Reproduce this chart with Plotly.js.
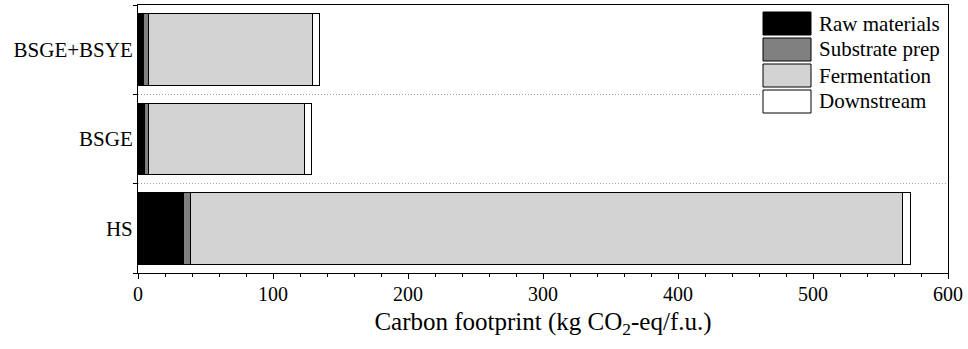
<!DOCTYPE html>
<html>
<head>
<meta charset="utf-8">
<script src="https://cdn.plot.ly/plotly-3.0.1.min.js"></script>
<style>
  html, body { margin: 0; padding: 0; background: #fff; }
  #chart { width: 968px; height: 349px; }
</style>
</head>
<body>
<div id="chart"></div>
<script>
// ---- Data ----
const categories = ['HS', 'BSGE', 'BSGE+BSYE'];
const stageNames = ['Raw materials', 'Substrate prep', 'Fermentation', 'Downstream'];
const rawMaterials = [33.8, 5.0, 4.4];
const substratePrep = [5.2, 2.5, 3.7];
const fermentation = [527.6, 115.5, 121.0];
const downstream = [5.5, 5.7, 5.4];
const xTickValues = [0, 100, 200, 300, 400, 500, 600];

// ---- Styles ----
const stageColors = ['#000000', '#808080', '#d3d3d3', '#ffffff'];
const FONT = 'Liberation Serif, "Times New Roman", Times, serif';
const series = [rawMaterials, substratePrep, fermentation, downstream];

const traces = series.map((vals, i) => ({
  type: 'bar',
  orientation: 'h',
  name: stageNames[i],
  y: categories,
  x: vals,
  marker: { color: stageColors[i], line: { color: '#000000', width: 1 } },
  showlegend: false,
  hoverinfo: 'x+y+name'
}));

// Plot area geometry (pixels) used for the custom legend
const W = 968, H = 349;
const M = { l: 138, r: 20, t: 5, b: 76 };
const pw = W - M.l - M.r, ph = H - M.t - M.b;
const px = x => (x - M.l) / pw;
const py = y => (H - M.b - y) / ph;

const shapes = [];
const annotations = [];
// legend background
shapes.push({
  type: 'rect', xref: 'paper', yref: 'paper', layer: 'above',
  x0: px(761), x1: px(946), y0: py(117), y1: py(8),
  fillcolor: '#ffffff', line: { width: 0 }
});
stageNames.forEach((name, i) => {
  const top = 12 + i * 26;
  shapes.push({
    type: 'rect', xref: 'paper', yref: 'paper', layer: 'above',
    x0: px(763), x1: px(811), y0: py(top + 23), y1: py(top),
    fillcolor: stageColors[i], line: { color: '#000000', width: 1 }
  });
  annotations.push({
    xref: 'paper', yref: 'paper', x: px(817), y: py(top + 11.5),
    xanchor: 'left', yanchor: 'middle', showarrow: false,
    text: name, font: { family: FONT, size: 21, color: '#000' }
  });
});

const layout = {
  width: W, height: H,
  margin: M,
  paper_bgcolor: '#ffffff',
  plot_bgcolor: '#ffffff',
  barmode: 'stack',
  bargap: 0.2,
  showlegend: false,
  font: { family: FONT, color: '#000' },
  xaxis: {
    range: [0, 600],
    tickvals: xTickValues,
    ticktext: xTickValues.map(String),
    ticks: 'outside', ticklen: 5, tickwidth: 1, tickcolor: '#000',
    ticklabelstandoff: -2,
    minor: { dtick: 20, tick0: 0, ticks: 'outside', ticklen: 3, tickcolor: '#000', showgrid: false },
    showline: true, linecolor: '#000', linewidth: 1, mirror: true,
    showgrid: false, zeroline: false,
    tickfont: { family: FONT, size: 20, color: '#000' },
    title: { text: 'Carbon footprint (kg CO<sub>2</sub>-eq/f.u.)', font: { family: FONT, size: 25, color: '#000' }, standoff: 8 },
    automargin: false
  },
  yaxis: {
    type: 'category',
    categoryorder: 'array', categoryarray: categories,
    tickson: 'boundaries',
    ticks: 'outside', ticklen: 4, tickwidth: 1, tickcolor: '#000',
    showline: true, linecolor: '#000', linewidth: 1, mirror: true,
    showgrid: true, gridcolor: '#a8a8a8', gridwidth: 1, griddash: '1px,2px',
    zeroline: false,
    tickfont: { family: FONT, size: 21, color: '#000' },
    automargin: false
  },
  shapes: shapes,
  annotations: annotations
};

Plotly.newPlot('chart', traces, layout, { staticPlot: true, displayModeBar: false });
</script>
</body>
</html>
